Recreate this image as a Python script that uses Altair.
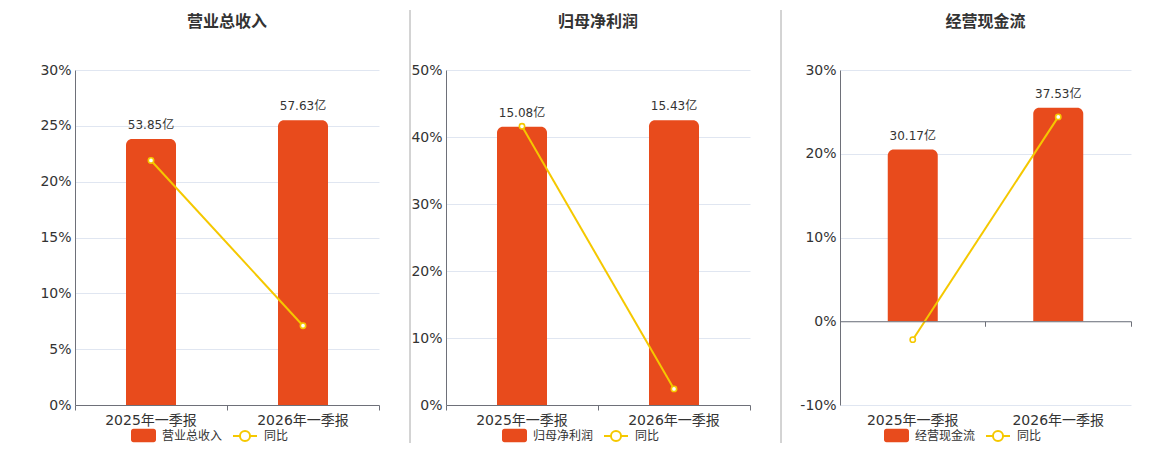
import altair as alt
import pandas as pd

categories = ["2025年一季报", "2026年一季报"]
titles = ["营业总收入", "归母净利润", "经营现金流"]
rev_values = [53.85, 57.63]
rev_yoy = [21.9, 7.1]
np_values = [15.08, 15.43]
np_yoy = [41.6, 2.4]
cf_values = [30.17, 37.53]
cf_yoy = [-2.2, 24.4]

axis_ranges = [(0, 30, 5), (0, 50, 10), (-10, 30, 10)]
widths = [304, 304, 291]
H = 335
sep_x = [0, -36, -59]
sep_op = [0, 1, 1]
legend_x = [56, 56, 44]

BAR = "#E84B1C"
LINE = "#F5C800"
FONT = "DejaVu Sans, Noto Sans CJK SC"
TXT = "#333333"
AXC = "#6E7079"

RECT_PATH = ("M-0.8,-0.54H0.8A0.2,0.2 0 0 1 1,-0.34V0.34A0.2,0.2 0 0 1 0.8,0.54"
             "H-0.8A0.2,0.2 0 0 1 -1,0.34V-0.34A0.2,0.2 0 0 1 -0.8,-0.54Z")
LINE_PATH = ("M-1,0H-0.42M0.42,0H1M0.42,0A0.42,0.42 0 1 1 -0.42,0"
             "A0.42,0.42 0 1 1 0.42,0")


def panel(title, values, yoy, rng, width, sep, sop, lx):
    ymin, ymax, step = rng
    df = pd.DataFrame({
        "cat": categories,
        "value": values,
        "yoy": yoy,
        "label": [f"{v:.2f}亿" for v in values],
        "s_bar": [title] * len(categories),
        "s_line": ["同比"] * len(categories),
    })
    base = alt.Chart(df)
    bmax = max(values) / 0.85
    bmin = bmax * ymin / ymax
    zero_px = H * (0 - ymin) / (ymax - ymin)
    xscale = alt.Scale(type="band", domain=categories, paddingInner=0, paddingOuter=0)

    x_lab = alt.X("cat:N", scale=xscale, sort=categories, title=None,
                  axis=alt.Axis(orient="bottom", domain=False, ticks=False, labelAngle=0,
                                labelFontSize=14, labelColor=TXT, labelPadding=8,
                                labelFont=FONT, grid=False))
    bar_y = alt.Y("value:Q", scale=alt.Scale(domain=[bmin, bmax], nice=False, zero=False),
                  axis=None)
    bars = base.mark_bar(size=50, cornerRadiusTopLeft=6, cornerRadiusTopRight=6).encode(
        x=x_lab, y=bar_y, y2=alt.datum(0),
        color=alt.Color("s_bar:N", scale=alt.Scale(domain=[title], range=[BAR]),
                        legend=alt.Legend(orient="none", legendX=lx, legendY=353, title=None,
                                          symbolType=RECT_PATH, symbolSize=625,
                                          symbolStrokeWidth=0, labelFontSize=12,
                                          labelColor=TXT, labelOffset=6, labelFont=FONT)))
    texts = base.mark_text(dy=-7, baseline="bottom", fontSize=12, color=TXT, font=FONT).encode(
        x=x_lab, y=bar_y, text="label:N")
    bar_layer = alt.layer(bars, texts)

    x_ax = alt.X("cat:N", scale=xscale, sort=categories, title=None,
                 axis=alt.Axis(orient="bottom", labels=False, domain=True, ticks=True,
                               tickSize=5, bandPosition=1, tickExtra=True,
                               offset=-zero_px, domainColor=AXC, tickColor=AXC,
                               grid=False, zindex=1))
    line_y = alt.Y("yoy:Q", scale=alt.Scale(domain=[ymin, ymax], nice=False, zero=False),
                   axis=alt.Axis(orient="left", values=list(range(ymin, ymax + 1, step)),
                                 labelExpr="datum.value + '%'", grid=True,
                                 gridColor="#E0E6F1", domain=True, domainColor=AXC,
                                 ticks=False, labelFontSize=14, labelColor=TXT,
                                 labelPadding=4, labelFont=FONT, title=None))
    line = base.mark_line(strokeWidth=2).encode(
        x=x_ax, y=line_y,
        stroke=alt.Stroke("s_line:N", scale=alt.Scale(domain=["同比"], range=[LINE]),
                          legend=alt.Legend(orient="none", legendX=lx + 101, legendY=353,
                                            title=None, symbolType=LINE_PATH,
                                            symbolSize=576, symbolStrokeWidth=2,
                                            symbolFillColor="white", labelFontSize=12,
                                            labelColor=TXT, labelOffset=6,
                                            labelFont=FONT)))
    pts = base.mark_point(shape="circle", filled=False, fill="white", stroke=LINE,
                          size=28, strokeWidth=1.6, opacity=1).encode(x=x_ax, y=line_y)
    line_layer = alt.layer(line, pts)

    sep_rule = alt.Chart(pd.DataFrame({"d": [0]})).mark_rule(
        color="#A8A8A8", strokeWidth=1, strokeOpacity=sop).encode(
        x=alt.value(sep), y=alt.value(-60), y2=alt.value(373))

    return alt.layer(bar_layer, line_layer, sep_rule).resolve_scale(y="independent").resolve_axis(
        x="independent", y="independent").properties(
        width=width, height=H,
        title=alt.Title(title, fontSize=16, fontWeight="bold", color=TXT, font=FONT,
                        offset=-20, frame="group", anchor="middle"))


series = [(rev_values, rev_yoy), (np_values, np_yoy), (cf_values, cf_yoy)]
panels = [panel(titles[i], series[i][0], series[i][1], axis_ranges[i], widths[i],
                sep_x[i], sep_op[i], legend_x[i]) for i in range(3)]

res = dict(color="independent", stroke="independent", x="independent", y="independent")
chart = alt.hconcat(*panels, spacing=29).resolve_scale(**res)
chart = chart.properties(padding={"left": 31, "top": 1, "right": 0, "bottom": 0}).configure(
    font=FONT).configure_view(strokeWidth=0, stroke="transparent")

chart.save("out.html", embed_options={"renderer": "svg", "actions": False})
